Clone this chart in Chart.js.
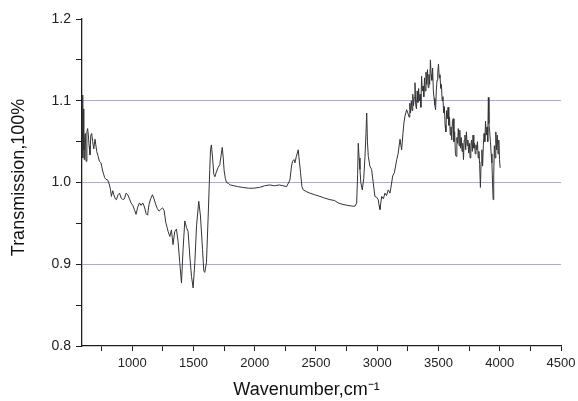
<!DOCTYPE html>
<html>
<head>
<meta charset="utf-8">
<script src="https://cdn.jsdelivr.net/npm/chart.js@4/dist/chart.umd.min.js"></script>
<style>
  html, body { margin: 0; padding: 0; background: #ffffff; }
  #wrap { width: 578px; height: 401px; }
</style>
</head>
<body>
<div id="wrap"><canvas id="ir" width="578" height="401"></canvas></div>
<script>
// FTIR spectrum: wavenumber (cm^-1) and transmission
const wavenumber = [
  593, 595, 597, 600, 603, 606, 608, 612, 617, 623, 630, 636, 642, 648, 655, 662, 669, 677, 686, 696,
  703, 710, 720, 732, 745, 759, 767, 775, 785, 800, 812, 822, 830, 841, 850, 862, 871, 884, 896, 910,
  923, 936, 950, 963, 975, 990, 1005, 1020, 1031, 1045, 1059, 1072, 1086, 1100, 1113, 1125, 1137, 1150, 1165, 1178,
  1192, 1205, 1219, 1233, 1247, 1260, 1274, 1285, 1293, 1307, 1320, 1333, 1347, 1361, 1374, 1388, 1402, 1415, 1429, 1443,
  1456, 1470, 1484, 1497, 1511, 1525, 1543, 1557, 1574, 1584, 1592, 1606, 1620, 1633, 1639, 1646, 1656, 1666, 1675, 1685,
  1700, 1715, 1727, 1735, 1743, 1750, 1760, 1770, 1785, 1800, 1830, 1860, 1900, 1950, 1987, 2040, 2080, 2123, 2160, 2200,
  2230, 2260, 2287, 2300, 2309, 2320, 2328, 2340, 2355, 2365, 2374, 2385, 2396, 2420, 2450, 2490, 2532, 2570, 2614, 2650,
  2682, 2722, 2760, 2800, 2818, 2832, 2840, 2845, 2852, 2859, 2866, 2878, 2890, 2900, 2908, 2914, 2920, 2927, 2940, 2954,
  2967, 2981, 2995, 3008, 3015, 3022, 3029, 3036, 3050, 3063, 3076, 3090, 3104, 3115, 3126, 3140, 3159, 3170, 3186, 3199,
  3210, 3218, 3226, 3240, 3250,
  3260, 3266, 3272, 3278, 3284, 3290, 3296, 3302, 3308, 3314, 3320, 3326, 3332, 3338, 3344, 3350, 3356, 3362, 3368, 3374,
  3380, 3386, 3392, 3398, 3404, 3410, 3416, 3422, 3428, 3434, 3440, 3446, 3452, 3458, 3464, 3470, 3476, 3482, 3488, 3494,
  3500, 3506, 3512, 3518, 3524, 3530, 3536, 3542, 3548, 3554, 3560, 3566, 3572, 3578, 3584, 3590, 3596, 3602, 3608, 3614,
  3620, 3626, 3632, 3638, 3644, 3650, 3656, 3662, 3668, 3674, 3680, 3686, 3692, 3698, 3704, 3710, 3716, 3722, 3728, 3734,
  3740, 3746, 3752, 3758, 3764, 3770, 3776, 3782, 3788, 3794, 3800, 3806, 3812, 3818, 3824, 3830, 3836, 3842, 3848, 3854,
  3860, 3866, 3872, 3878, 3884, 3890, 3896, 3902, 3907, 3912, 3918, 3924, 3930, 3936, 3941, 3946, 3951, 3956, 3962, 3968,
  3974, 3980, 3986, 3992, 3998, 4003
];
const transmission = [
  1.060, 1.107, 1.030, 1.090, 1.040, 1.060, 1.028, 1.055, 1.060, 1.026, 1.062, 1.066, 1.058, 1.045, 1.034, 1.058, 1.060, 1.050, 1.041, 1.053,
  1.046, 1.038, 1.033, 1.026, 1.024, 1.014, 1.010, 1.006, 1.004, 1.003, 0.998, 0.992, 0.983, 0.990, 0.985, 0.980, 0.979, 0.985, 0.987, 0.981,
  0.979, 0.980, 0.987, 0.985, 0.981, 0.975, 0.972, 0.966, 0.961, 0.970, 0.975, 0.972, 0.975, 0.970, 0.962, 0.960, 0.973, 0.980, 0.985, 0.980,
  0.973, 0.968, 0.965, 0.967, 0.969, 0.966, 0.951, 0.945, 0.940, 0.934, 0.942, 0.924, 0.940, 0.943, 0.928, 0.902, 0.877, 0.918, 0.953, 0.945,
  0.940, 0.910, 0.885, 0.871, 0.902, 0.947, 0.977, 0.959, 0.918, 0.892, 0.890, 0.902, 0.959, 1.016, 1.040, 1.046, 1.030, 1.010, 1.007, 1.012,
  1.018, 1.022, 1.035, 1.043, 1.030, 1.015, 1.005, 1.000, 0.999, 0.997, 0.996, 0.995, 0.994, 0.993, 0.993, 0.994, 0.996, 0.997, 0.996, 0.997,
  0.996, 0.995, 1.003, 1.020, 1.026, 1.028, 1.024, 1.032, 1.040, 1.025, 1.012, 0.995, 0.991, 0.989, 0.987, 0.985, 0.983, 0.981, 0.979, 0.978,
  0.975, 0.973, 0.972, 0.971, 0.971, 0.975, 1.010, 1.048, 1.030, 1.016, 1.000, 0.991, 1.005, 1.032, 1.060, 1.085, 1.050, 1.032, 1.020, 1.016,
  1.000, 0.983, 0.982, 0.979, 0.972, 0.967, 0.975, 0.983, 0.980, 0.987, 0.984, 0.991, 0.987, 0.997, 1.008, 1.012, 1.028, 1.035, 1.053, 1.040,
  1.060, 1.073, 1.081, 1.089, 1.085,
  1.080, 1.097, 1.085, 1.100, 1.088, 1.108, 1.094, 1.104, 1.122, 1.095, 1.090, 1.112, 1.098, 1.115, 1.100, 1.108, 1.092, 1.130, 1.112, 1.118,
  1.105, 1.128, 1.112, 1.135, 1.120, 1.138, 1.116, 1.132, 1.120, 1.150, 1.132, 1.125, 1.140, 1.112, 1.103, 1.095, 1.089, 1.112, 1.125, 1.134,
  1.145, 1.128, 1.132, 1.115, 1.120, 1.100, 1.105, 1.085, 1.093, 1.070, 1.062, 1.088, 1.078, 1.092, 1.070, 1.080, 1.058, 1.068, 1.052, 1.075,
  1.078, 1.050, 1.062, 1.035, 1.032, 1.055, 1.048, 1.066, 1.045, 1.064, 1.042, 1.055, 1.038, 1.048, 1.028, 1.052, 1.058, 1.040, 1.062, 1.045,
  1.052, 1.036, 1.048, 1.030, 1.045, 1.052, 1.038, 1.058, 1.042, 1.048, 1.035, 1.046, 1.040, 1.050, 1.030, 1.038, 1.022, 0.994, 1.025, 1.040,
  1.020, 1.045, 1.060, 1.050, 1.075, 1.058, 1.068, 1.050, 1.104, 1.072, 1.062, 1.050, 1.035, 1.024, 1.000, 0.979, 1.010, 1.045, 1.030, 1.062,
  1.040, 1.058, 1.035, 1.052, 1.028, 1.018
];

// Axis ticks (major + minor) and their printed labels
const xTickValues = [750, 1000, 1250, 1500, 1750, 2000, 2250, 2500, 2750, 3000, 3250, 3500, 3750, 4000, 4250, 4500];
const xTickLabels = ['', '1000', '', '1500', '', '2000', '', '2500', '', '3000', '', '3500', '', '4000', '', '4500'];
const yTickValues = [0.8, 0.85, 0.9, 0.95, 1.0, 1.05, 1.1, 1.15, 1.2];
const yTickLabels = ['0.8', '', '0.9', '', '1.0', '', '1.1', '', '1.2'];
const gridLevels = [0.9, 1.0, 1.1];

const FONT = '"Liberation Sans", Arial, Helvetica, sans-serif';
const AXIS = '#1e1e1e';
const GRID = 'rgb(172, 172, 218)';

const points = wavenumber.map((w, i) => ({ x: w, y: transmission[i] }));

// fixed axis box sizes; label overhang is absorbed by the layout padding
function fixBox(width, height) {
  return s => {
    if (width !== null) s.width = width;
    if (height !== null) s.height = height;
    s.paddingLeft = 0; s.paddingRight = 0; s.paddingTop = 0; s.paddingBottom = 0;
  };
}

new Chart(document.getElementById('ir'), {
  type: 'line',
  data: {
    datasets: [{
      data: points,
      borderColor: '#333333',
      borderWidth: 1,
      pointRadius: 0,
      tension: 0,
      fill: false
    }]
  },
  options: {
    responsive: false,
    animation: false,
    events: [],
    layout: { padding: { top: 19, right: 17, left: 0, bottom: 0 } },
    plugins: { legend: { display: false }, tooltip: { enabled: false } },
    scales: {
      x: {
        type: 'linear',
        min: 590,
        max: 4500,
        afterBuildTicks: s => { s.ticks = xTickValues.map(v => ({ value: v })); },
        afterFit: fixBox(null, 55),
        border: { display: true, color: AXIS, width: 1.3 },
        grid: { drawOnChartArea: false, drawTicks: true, tickLength: 5, tickColor: AXIS, lineWidth: 1 },
        ticks: {
          autoSkip: false, maxRotation: 0, padding: 5, color: '#222',
          font: { family: FONT, size: 13 },
          callback: (v, i) => xTickLabels[i]
        },
        title: {
          // trailing spaces keep the caption slightly left of the axis centre
          display: true, text: 'Wavenumber,cm⁻¹      ', color: '#111',
          font: { family: FONT, size: 18 }, padding: { top: 0, bottom: 0 }
        }
      },
      y: {
        type: 'linear',
        min: 0.8,
        max: 1.2,
        afterBuildTicks: s => { s.ticks = yTickValues.map(v => ({ value: v })); },
        afterFit: fixBox(82, null),
        border: { display: true, color: AXIS, width: 1.3 },
        grid: {
          drawOnChartArea: true, drawTicks: true, tickLength: 6, tickColor: AXIS, lineWidth: 1,
          color: c => (c.tick && gridLevels.includes(c.tick.value)) ? GRID : 'rgba(0,0,0,0)'
        },
        ticks: {
          autoSkip: false, padding: 5, color: '#222',
          font: { family: FONT, size: 14 },
          callback: (v, i) => yTickLabels[i]
        },
        title: {
          display: true, text: '  Transmission,100%', color: '#111',
          font: { family: FONT, size: 18 }, padding: { top: 8, bottom: 0 }
        }
      }
    }
  }
});
</script>
</body>
</html>
